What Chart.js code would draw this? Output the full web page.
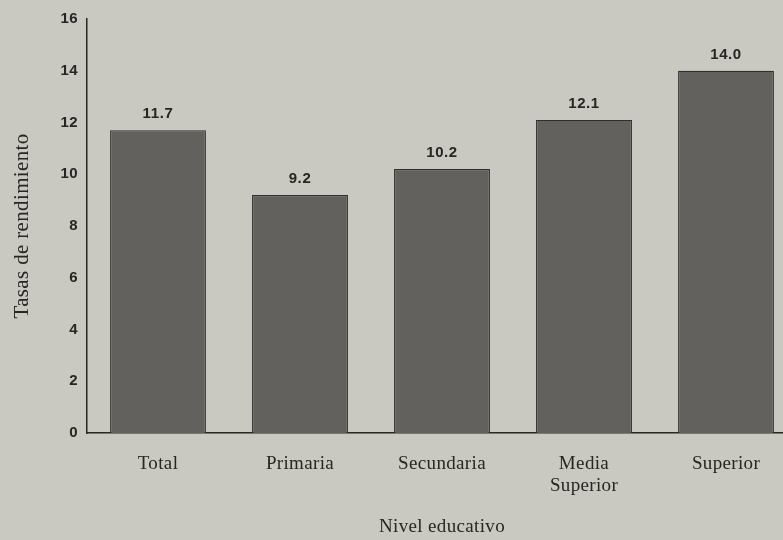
<!DOCTYPE html>
<html>
<head>
<meta charset="utf-8">
<script src="https://cdn.jsdelivr.net/npm/chart.js@4.4.1/dist/chart.umd.min.js"></script>
<style>
    html, body { margin: 0; padding: 0; background: #c9c8c1; overflow: hidden; }
    #wrap { width: 783px; height: 540px; overflow: hidden; }
    canvas { display: block; }
</style>
</head>
<body>
<div id="wrap"><canvas id="rendChart" width="797" height="540"></canvas></div>
<script>
// Data
const categories = ['Total', 'Primaria', 'Secundaria', ['Media', 'Superior'], 'Superior'];
const tasas = [11.7, 9.2, 10.2, 12.1, 14.0];
const yTicks = [0, 2, 4, 6, 8, 10, 12, 14, 16];

const inkColor = '#262624';
const serif = "'Liberation Serif', 'DejaVu Serif', serif";
const sans = "'Liberation Sans', Arial, sans-serif";

// Slightly wider print-like letter spacing for every text
const spacing = {
    id: 'spacing',
    beforeDraw(chart) {
        chart.ctx.letterSpacing = '0.35px';
    }
};

// Value labels above each bar
const valueLabels = {
    id: 'valueLabels',
    afterDatasetsDraw(chart) {
        const ctx = chart.ctx;
        const meta = chart.getDatasetMeta(0);
        ctx.save();
        ctx.fillStyle = inkColor;
        ctx.font = `bold 15px ${sans}`;
        ctx.letterSpacing = '0.6px';
        ctx.textAlign = 'center';
        ctx.textBaseline = 'alphabetic';
        meta.data.forEach((bar, i) => {
            ctx.fillText(tasas[i].toFixed(1), bar.x, bar.y - 12);
        });
        ctx.restore();
    }
};

new Chart(document.getElementById('rendChart'), {
    type: 'bar',
    data: {
        labels: categories,
        datasets: [{
            data: tasas,
            backgroundColor: '#62615d',
            borderColor: '#2f2f2d',
            borderWidth: 1.2,
            categoryPercentage: 1,
            barPercentage: 0.675
        }]
    },
    options: {
        responsive: false,
        animation: false,
        layout: { padding: { top: 19, right: 0, left: 0, bottom: 0 } },
        plugins: {
            legend: { display: false },
            tooltip: { enabled: false }
        },
        scales: {
            y: {
                min: 0,
                max: 16,
                afterBuildTicks: scale => { scale.ticks = yTicks.map(v => ({ value: v })); },
                afterFit: scale => { scale.width = 87; },
                grid: { display: false, drawTicks: false },
                border: { display: true, color: inkColor, width: 1.5 },
                ticks: {
                    color: inkColor,
                    padding: 9,
                    font: { family: sans, size: 15, weight: 'bold' }
                },
                title: {
                    display: true,
                    text: 'Tasas de rendimiento',
                    color: inkColor,
                    font: { family: serif, size: 21 },
                    padding: { top: 10, bottom: 0 }
                }
            },
            x: {
                afterFit: scale => { scale.height = 107; },
                grid: { display: false, drawTicks: false },
                border: { display: true, color: inkColor, width: 1.5 },
                ticks: {
                    color: inkColor,
                    padding: 20,
                    maxRotation: 0,
                    autoSkip: false,
                    font: { family: serif, size: 19, lineHeight: 1.15 }
                },
                title: {
                    display: true,
                    text: 'Nivel educativo',
                    color: inkColor,
                    font: { family: serif, size: 19 },
                    padding: { top: 0, bottom: 2 }
                }
            }
        }
    },
    plugins: [spacing, valueLabels]
});
</script>
</body>
</html>
